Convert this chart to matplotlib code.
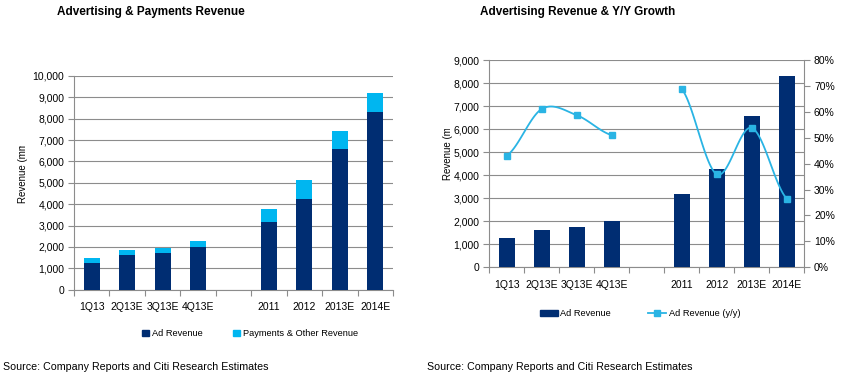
import numpy as np
import matplotlib
matplotlib.use("Agg")
import matplotlib.pyplot as plt
from matplotlib.transforms import Bbox
from matplotlib.patches import Patch
from matplotlib.lines import Line2D

plt.rcParams['font.family'] = ['Liberation Sans', 'DejaVu Sans']

# categories (blank slot separates quarters from years)
quarters = ['1Q13', '2Q13E', '3Q13E', '4Q13E']
years = ['2011', '2012', '2013E', '2014E']
categories = quarters + [''] + years

# left chart: revenue ($mm)
ad_rev_q = [1260, 1620, 1730, 2010]
pay_rev_q = [220, 250, 230, 280]
ad_rev_y = [3170, 4260, 6570, 8300]
pay_rev_y = [600, 860, 840, 900]

# right chart: ad revenue growth y/y (%)
ad_yoy_q = [43.1, 61.1, 58.7, 51.0]
ad_yoy_y = [68.8, 35.9, 53.8, 26.5]

NAVY = '#002D72'
CYAN = '#00B6F0'
LINE = '#2AB4E4'
GRID = '#8C8C8C'
FS = 7.5
LFS = 6.7

x_q = np.arange(len(quarters))
x_y = np.arange(len(years)) + len(quarters) + 1
xs = np.arange(len(categories))


def smooth(x, y, n=30):
    # Catmull-Rom style smoothing like Excel's smoothed line
    x = np.asarray(x, float)
    y = np.asarray(y, float)
    px, py = [], []
    for i in range(len(x) - 1):
        x0, x1 = x[i], x[i + 1]
        y0, y1 = y[i], y[i + 1]
        m0 = (y[i + 1] - y[i - 1]) / 2 if i > 0 else (y1 - y0) / 2
        m1 = (y[i + 2] - y[i]) / 2 if i + 2 < len(x) else (y1 - y0) / 2
        t = np.linspace(0, 1, n)
        h00 = 2 * t**3 - 3 * t**2 + 1
        h10 = t**3 - 2 * t**2 + t
        h01 = -2 * t**3 + 3 * t**2
        h11 = t**3 - t**2
        px.extend(x0 + (x1 - x0) * t)
        py.extend(h00 * y0 + h10 * m0 + h01 * y1 + h11 * m1)
    return np.array(px), np.array(py)


def style_axes(ax):
    ax.set_xlim(-0.5, len(categories) - 0.5)
    ax.set_xticks(xs)
    ax.set_xticklabels(categories, fontsize=FS)
    ax.set_xticks(np.arange(len(categories) + 1) - 0.5, minor=True)
    ax.tick_params(axis='x', which='major', length=0, pad=9)
    ax.tick_params(axis='x', which='minor', length=4, color=GRID, width=0.8)
    ax.tick_params(axis='y', length=4, color=GRID, width=0.8, labelsize=FS, pad=3)
    ax.yaxis.grid(True, color=GRID, lw=0.8)
    ax.set_axisbelow(True)
    for s in ['top', 'right']:
        ax.spines[s].set_visible(False)
    for s in ['left', 'bottom']:
        ax.spines[s].set_color(GRID)
        ax.spines[s].set_linewidth(0.8)


def clipped_label(x, y_bottom, y_clip):
    t = fig.text(x / 841, 1 - y_bottom / 384, 'Revenue (mm)', rotation=90,
                 fontsize=7.0, ha='center', va='bottom')
    t.set_clip_box(Bbox([[0, 0], [841, 384 - y_clip]]))
    t.set_clip_on(True)


fig = plt.figure(figsize=(8.41, 3.84), dpi=100)

# ---- left chart
ax1 = fig.add_axes([0.088, 0.2457, 0.3793, 0.5564])
w = 0.45
ax1.bar(x_q, ad_rev_q, w, color=NAVY, zorder=3)
ax1.bar(x_q, pay_rev_q, w, bottom=ad_rev_q, color=CYAN, zorder=3)
ax1.bar(x_y, ad_rev_y, w, color=NAVY, zorder=3)
ax1.bar(x_y, pay_rev_y, w, bottom=ad_rev_y, color=CYAN, zorder=3)
ax1.set_ylim(0, 10000)
ax1.set_yticks(np.arange(0, 10001, 1000))
ax1.yaxis.set_major_formatter(matplotlib.ticker.FuncFormatter(lambda v, p: f'{v:,.0f}'))
style_axes(ax1)
clipped_label(22.7, 203, 146)
fig.text(57 / 841, 1 - 12 / 384, 'Advertising & Payments Revenue', fontsize=8.5,
         fontweight='bold', ha='left', va='center')
fig.legend([Patch(color=NAVY), Patch(color=CYAN)],
           ['Ad Revenue', 'Payments & Other Revenue'],
           loc='center left', bbox_to_anchor=(142 / 841, 1 - 333.7 / 384), ncol=2,
           frameon=False, fontsize=LFS, handlelength=0.75, handleheight=0.75,
           handletextpad=0.3, columnspacing=3.3, borderpad=0, borderaxespad=0)
fig.text(3 / 841, 1 - 366.7 / 384, 'Source: Company Reports and Citi Research Estimates',
         fontsize=7.7, ha='left', va='center')

# ---- right chart
ax2 = fig.add_axes([0.5818, 0.3039, 0.3745, 0.5398])
ax2.bar(x_q, ad_rev_q, w, color=NAVY, zorder=3)
ax2.bar(x_y, ad_rev_y, w, color=NAVY, zorder=3)
ax2.set_ylim(0, 9000)
ax2.set_yticks(np.arange(0, 9001, 1000))
ax2.yaxis.set_major_formatter(matplotlib.ticker.FuncFormatter(lambda v, p: f'{v:,.0f}'))
style_axes(ax2)

ax3 = ax2.twinx()
ax3.set_ylim(0, 80)
ax3.set_yticks(np.arange(0, 81, 10))
ax3.yaxis.set_major_formatter(matplotlib.ticker.FuncFormatter(lambda v, p: f'{v:.0f}%'))
ax3.tick_params(axis='y', length=4, color=GRID, width=0.8, labelsize=FS, pad=3)
for s in ['top', 'left', 'bottom']:
    ax3.spines[s].set_visible(False)
ax3.spines['right'].set_color(GRID)
ax3.spines['right'].set_linewidth(0.8)
for xx, yy in [(x_q, ad_yoy_q), (x_y, ad_yoy_y)]:
    sx, sy = smooth(xx, yy)
    ax3.plot(sx, sy, color=LINE, lw=1.3, zorder=4)
    ax3.plot(xx, yy, 's', color=LINE, ms=4.5, zorder=5)

clipped_label(447.7, 180, 129)
fig.text(480 / 841, 1 - 12 / 384, 'Advertising Revenue & Y/Y Growth', fontsize=8.5,
         fontweight='bold', ha='left', va='center')
fig.legend([Patch(color=NAVY),
            Line2D([], [], color=LINE, lw=1.3, marker='s', ms=4.5)],
           ['Ad Revenue', 'Ad Revenue (y/y)'],
           loc='center left', bbox_to_anchor=(540 / 841, 1 - 313.7 / 384), ncol=2,
           frameon=False, fontsize=LFS, handlelength=1.9, handleheight=0.65,
           handletextpad=0.3, columnspacing=4.0, borderpad=0, borderaxespad=0)
fig.text(426.7 / 841, 1 - 366.7 / 384, 'Source: Company Reports and Citi Research Estimates',
         fontsize=7.7, ha='left', va='center')

fig.savefig('out.png', dpi=100)
